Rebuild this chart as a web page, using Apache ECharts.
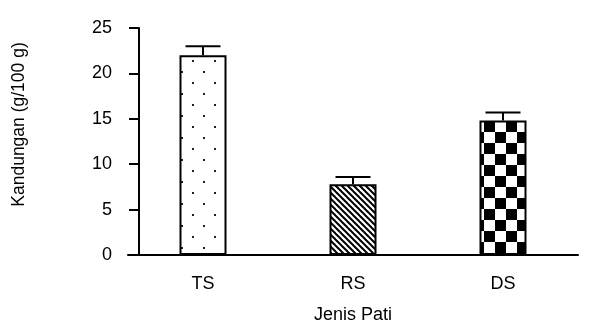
<!DOCTYPE html>
<html>
<head>
<meta charset="utf-8">
<script src="https://cdn.jsdelivr.net/npm/echarts@6/dist/echarts.min.js"></script>
<style>
html,body{margin:0;padding:0;background:#fff;}
#chart{width:605px;height:325px;}
</style>
</head>
<body>
<div id="chart"></div>
<script>
var categories = ['TS', 'RS', 'DS'];
var values = [22.0, 7.8, 14.8];
var errors = [1.0, 0.8, 0.9];
var yTicks = [0, 5, 10, 15, 20, 25];
var xName = 'Jenis Pati';
var yName = 'Kandungan (g/100 g)';

function makeCanvas(w, h, draw) {
  var c = document.createElement('canvas');
  c.width = w; c.height = h;
  var ctx = c.getContext('2d');
  ctx.fillStyle = '#fff';
  ctx.fillRect(0, 0, w, h);
  draw(ctx);
  return c;
}
// dotted pattern
var dots = makeCanvas(22, 22, function (ctx) {
  ctx.fillStyle = '#222';
  ctx.fillRect(5, 5, 2, 2);
  ctx.fillRect(16, 16, 2, 2);
});
// diagonal "\" stripes
var stripes = makeCanvas(6, 6, function (ctx) {
  ctx.strokeStyle = '#000';
  ctx.lineWidth = 2;
  for (var k = -1; k <= 1; k++) {
    ctx.beginPath();
    ctx.moveTo(k * 6 - 1, -1);
    ctx.lineTo(k * 6 + 7, 7);
    ctx.stroke();
  }
});
// checkerboard
var checks = makeCanvas(22, 22, function (ctx) {
  ctx.fillStyle = '#000';
  ctx.fillRect(11, 0, 11, 11);
  ctx.fillRect(0, 11, 11, 11);
});
var patterns = [dots, stripes, checks];

var barData = values.map(function (v, i) {
  return {
    value: v,
    itemStyle: { color: { image: patterns[i], repeat: 'repeat' } }
  };
});
var errData = values.map(function (v, i) { return [i, v, v + errors[i]]; });

var chart = echarts.init(document.getElementById('chart'), null, { renderer: 'canvas' });
var font = '"Liberation Sans", Arial, sans-serif';
chart.setOption({
  animation: false,
  backgroundColor: '#fff',
  grid: { left: 128, right: 27, top: 28, bottom: 70, containLabel: false, outerBoundsMode: 'none' },
  xAxis: {
    type: 'category',
    data: categories,
    name: xName,
    nameLocation: 'middle',
    nameGap: 51,
    nameTextStyle: { color: '#000', fontSize: 18, fontFamily: font },
    axisLine: { lineStyle: { color: '#000', width: 2 } },
    axisTick: { alignWithLabel: true, length: 11, lineStyle: { color: '#000', width: 2 } },
    axisLabel: { color: '#000', fontSize: 18, fontFamily: font, margin: 20 },
    splitLine: { show: false }
  },
  yAxis: {
    type: 'value',
    min: yTicks[0],
    max: yTicks[yTicks.length - 1],
    interval: 5,
    offset: -11,
    name: yName,
    nameLocation: 'middle',
    nameRotate: 90,
    nameGap: 111,
    nameTextStyle: { color: '#000', fontSize: 17.5, fontFamily: font, padding: [0, 0, 0, 34] },
    axisLine: { show: true, lineStyle: { color: '#000', width: 2 } },
    axisTick: { show: true, length: 10, lineStyle: { color: '#000', width: 2 } },
    axisLabel: { color: '#000', fontSize: 18, fontFamily: font, margin: 27 },
    splitLine: { show: false }
  },
  series: [
    {
      type: 'bar',
      data: barData,
      barWidth: 47,
      itemStyle: { borderColor: '#000', borderWidth: 2 }
    },
    {
      type: 'custom',
      data: errData,
      z: 5,
      renderItem: function (params, api) {
        var x = api.value(0);
        var p0 = api.coord([x, api.value(1)]);
        var p1 = api.coord([x, api.value(2)]);
        var half = 17.5;
        return {
          type: 'group',
          children: [
            { type: 'line', shape: { x1: p0[0], y1: p0[1], x2: p1[0], y2: p1[1] }, style: { stroke: '#000', lineWidth: 2 } },
            { type: 'line', shape: { x1: p1[0] - half, y1: p1[1], x2: p1[0] + half, y2: p1[1] }, style: { stroke: '#000', lineWidth: 2 } }
          ]
        };
      }
    }
  ]
});
</script>
</body>
</html>
